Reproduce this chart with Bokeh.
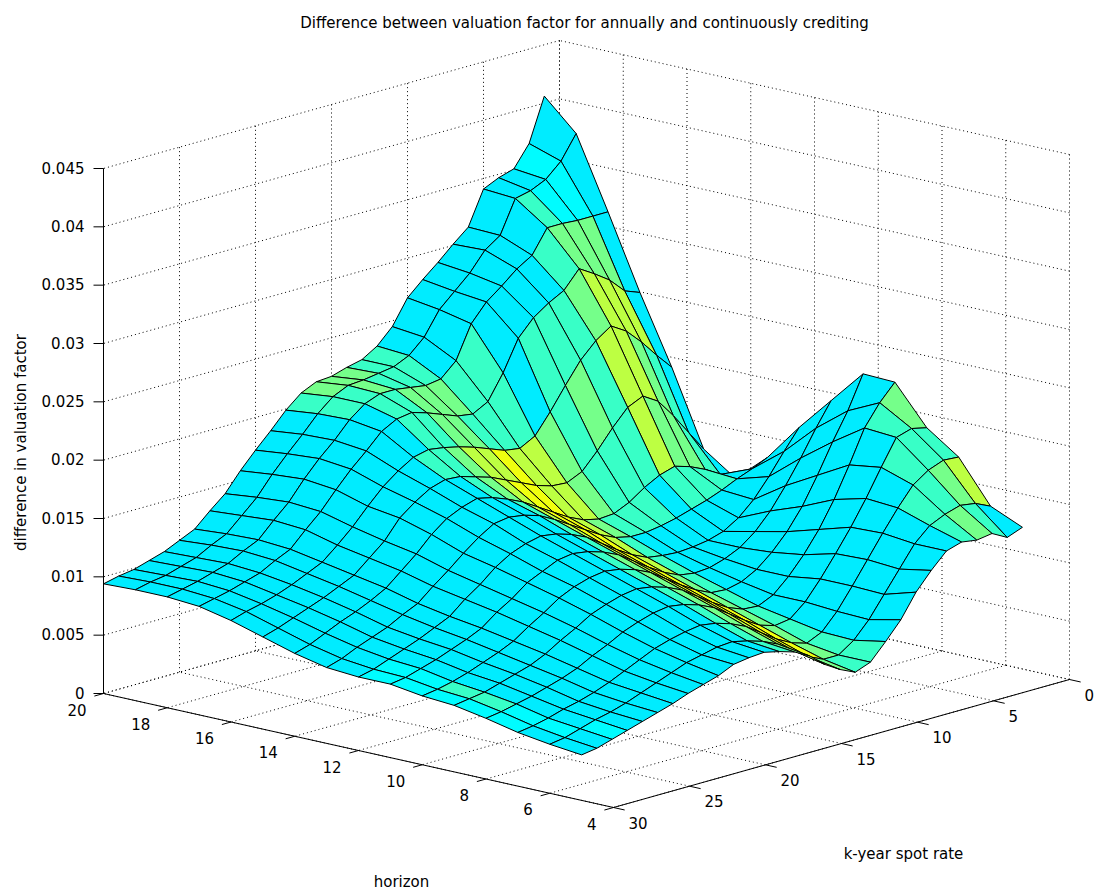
import numpy as np
from bokeh.plotting import figure
from bokeh.models import Range1d
from bokeh.embed import file_html
from bokeh.resources import INLINE
from bokeh.core.properties import value

# ---------------- data (values in units of 1e-3) ----------------
horizon = [20, 19, 18, 17, 16, 15, 14, 13, 12, 11, 10, 9, 8, 7, 6, 5]
spot_rate = [30, 29, 28, 27, 26, 25, 24, 23, 22, 21, 20, 19, 18, 17, 16,
             15, 14, 13, 12, 11, 10, 9, 8, 7, 6, 5, 4, 3, 2, 1]

diff_h20 = [9.4, 9.7, 9.9, 10.3, 10.7, 11.3, 11.9, 13.1, 14.2, 15.8, 17.2, 18.5, 19.9, 21.0, 21.6, 21.7, 22.1, 22.4, 23.2, 24.5, 26.6, 27.8, 28.9, 30.1, 31.2, 34.1, 34.7, 35.1, 36.9, 40.6]
diff_h19 = [9.5, 9.8, 10.0, 10.4, 10.8, 11.5, 12.1, 13.3, 14.5, 16.1, 17.5, 18.8, 20.2, 21.3, 21.9, 22.0, 22.2, 22.4, 23.0, 24.2, 26.2, 27.4, 28.6, 30.2, 31.1, 33.9, 34.2, 34.8, 36.0, 38.0]
diff_h18 = [9.5, 9.8, 10.1, 10.5, 10.9, 11.6, 12.2, 13.5, 14.7, 16.3, 17.7, 18.9, 20.3, 21.3, 21.8, 21.8, 21.6, 21.4, 21.6, 22.8, 25.6, 27.1, 28.1, 29.2, 30.0, 32.0, 32.0, 31.9, 31.9, 31.9]
diff_h17 = [9.3, 9.6, 9.9, 10.3, 10.7, 11.4, 12.0, 13.3, 14.5, 16.0, 17.4, 18.6, 19.9, 20.6, 20.8, 20.4, 19.9, 19.4, 19.2, 19.9, 22.0, 24.6, 26.0, 26.9, 27.6, 29.1, 28.3, 27.4, 26.1, 25.6]
diff_h16 = [8.7, 9.1, 9.4, 9.8, 10.3, 10.9, 11.5, 12.6, 13.8, 15.2, 16.5, 17.5, 18.3, 18.6, 18.4, 18.1, 17.7, 17.2, 16.7, 16.5, 17.2, 18.9, 20.8, 22.6, 23.9, 24.8, 24.0, 22.7, 21.2, 19.8]
diff_h15 = [7.9, 8.3, 8.8, 9.3, 9.8, 10.4, 11.0, 12.1, 13.2, 14.8, 15.8, 16.6, 17.0, 16.9, 16.5, 16.1, 15.5, 14.9, 14.3, 13.9, 13.8, 14.4, 15.8, 17.4, 18.8, 19.4, 18.6, 17.0, 15.2, 13.4]
diff_h14 = [7.1, 7.5, 8.1, 8.7, 9.2, 9.8, 10.5, 11.6, 12.7, 14.0, 15.0, 15.6, 16.0, 15.7, 15.2, 14.6, 13.8, 13.0, 12.2, 11.6, 11.3, 11.4, 12.0, 12.9, 13.6, 14.0, 13.6, 13.0, 12.2, 11.5]
diff_h13 = [6.5, 6.9, 7.5, 8.0, 8.5, 9.2, 9.8, 10.9, 11.9, 13.0, 14.0, 14.8, 15.0, 14.8, 14.4, 13.7, 12.9, 12.1, 11.3, 10.7, 10.4, 10.4, 10.6, 10.9, 11.3, 11.7, 12.2, 12.8, 13.3, 13.9]
diff_h12 = [6.3, 6.6, 7.1, 7.6, 8.1, 8.7, 9.3, 10.4, 11.3, 12.4, 13.2, 13.7, 14.0, 13.8, 13.4, 12.8, 11.9, 11.0, 10.2, 9.6, 9.4, 9.3, 9.4, 9.6, 10.0, 10.8, 12.0, 13.6, 15.4, 17.1]
diff_h11 = [6.3, 6.5, 6.9, 7.3, 7.8, 8.3, 8.9, 9.9, 10.7, 11.7, 12.3, 12.9, 13.1, 12.9, 12.5, 11.9, 11.0, 10.1, 9.3, 8.7, 8.5, 8.6, 9.0, 9.6, 10.6, 12.0, 13.8, 15.8, 18.0, 20.0]
diff_h10 = [5.9, 6.1, 6.4, 6.8, 7.3, 7.8, 8.4, 9.3, 10.1, 11.0, 11.6, 12.0, 12.2, 12.0, 11.6, 11.0, 10.1, 9.2, 8.4, 7.8, 7.7, 8.0, 8.7, 9.8, 11.2, 13.0, 15.3, 17.8, 20.1, 22.9]
diff_h9 = [5.7, 5.9, 6.1, 6.5, 6.9, 7.3, 7.9, 8.7, 9.4, 10.2, 10.7, 11.1, 11.3, 11.1, 10.7, 10.1, 9.2, 8.3, 7.5, 7.0, 6.9, 7.5, 8.7, 10.2, 12.0, 14.2, 16.8, 19.6, 21.4, 22.8]
diff_h8 = [5.2, 5.4, 5.7, 6.0, 6.4, 6.8, 7.3, 8.0, 8.6, 9.3, 9.8, 10.2, 10.4, 10.2, 9.8, 9.2, 8.3, 7.4, 6.6, 6.2, 6.4, 7.5, 9.1, 10.9, 12.8, 14.9, 17.2, 19.4, 19.8, 19.5]
diff_h7 = [4.6, 4.8, 5.1, 5.5, 5.8, 6.2, 6.7, 7.3, 7.9, 8.5, 8.9, 9.2, 9.4, 9.2, 8.8, 8.2, 7.3, 6.4, 5.7, 5.3, 5.9, 7.3, 9.1, 11.0, 12.9, 14.7, 16.3, 17.2, 17.7, 17.6]
diff_h6 = [4.2, 4.4, 4.8, 5.2, 5.5, 5.9, 6.4, 6.9, 7.4, 7.9, 8.2, 8.5, 8.6, 8.3, 7.9, 7.3, 6.4, 5.5, 4.9, 4.9, 5.8, 7.2, 9.0, 10.8, 12.6, 13.8, 14.4, 14.8, 14.6, 14.0]
diff_h5 = [3.9, 4.1, 4.5, 4.9, 5.3, 5.7, 6.1, 6.6, 7.0, 7.4, 8.0, 8.2, 8.3, 8.0, 7.6, 6.9, 5.8, 5.0, 4.4, 4.9, 6.3, 7.8, 9.8, 11.3, 12.6, 13.0, 12.8, 13.0, 12.3, 12.8]

# colour-data level of each face (15 bands between horizon rows, 29 faces per band)
cdata_levels = [
    "111111111111" + "344433" + "111111111" + "21",
    "111111111111" + "334333" + "111111" + "1" + "322" + "1",
    "111111111111" + "13344433" + "1111" + "3444" + "1",
    "111111111111" + "13344333" + "133" + "3" + "4555" + "1",
    "111111111111" + "33" + "45565" + "54343" + "5543" + "1",
    "111111111111" + "13" + "45665" + "54333" + "5443" + "1",
    "111111111111" + "11" + "35665" + "43331" + "3331" + "1",
    "111111111111" + "11" + "35665" + "31111" + "1111" + "1",
    "221111111111" + "11" + "35665" + "31111" + "1111" + "1",
    "221111111111" + "13" + "45664" + "31111" + "1111" + "1",
    "231111111111" + "13" + "45664" + "31111" + "1111" + "1",
    "231111111111" + "13" + "45664" + "31111" + "1113" + "4",
    "221111111111" + "13" + "45664" + "31111" + "1133" + "3",
    "121111111111" + "13" + "45664" + "31111" + "1334" + "5",
    "112111111111" + "13" + "45543" + "31111" + "1343" + "1",
]

horizon_ticks = [4, 6, 8, 10, 12, 14, 16, 18, 20]
spot_ticks = [0, 5, 10, 15, 20, 25, 30]
z_ticks = [0, 0.005, 0.01, 0.015, 0.02, 0.025, 0.03, 0.035, 0.04, 0.045]
z_tick_labels = ["0", "0.005", "0.01", "0.015", "0.02", "0.025", "0.03", "0.035", "0.04", "0.045"]

title_text = "Difference between valuation factor for annually and continuously crediting"
zlabel_text = "difference in valuation factor"
hlabel_text = "horizon"
klabel_text = "k-year spot rate"

# ---------------- 3-D axes geometry (orthographic view) ----------------
H_MIN, H_MAX = 4.0, 20.0
K_MIN, K_MAX = 0.0, 30.0
Z_MIN, Z_MAX = 0.0, 0.045
ORIGIN = (103.0, 693.0)      # page position of (h=20, k=30, z=0)
H_VEC = (510.0, 114.0)       # h going 20 -> 4
K_VEC = (456.0, -128.0)      # k going 30 -> 0
Z_LEN = 525.0                # z going 0 -> 0.045
DEPTH = (439.7, 495.0, 135.8)


def proj(h, k, z):
    a = (H_MAX - h) / (H_MAX - H_MIN)
    b = (K_MAX - k) / (K_MAX - K_MIN)
    x = ORIGIN[0] + a * H_VEC[0] + b * K_VEC[0]
    y = ORIGIN[1] + a * H_VEC[1] + b * K_VEC[1] - (z - Z_MIN) / (Z_MAX - Z_MIN) * Z_LEN
    return x, y


def far(h, k, z):
    return (DEPTH[0] * (h - H_MIN) / (H_MAX - H_MIN) - DEPTH[1] * k / (K_MAX - K_MIN)
            - DEPTH[2] * z / (Z_MAX - Z_MIN))


def jet(t):
    r = min(max(1.5 - abs(4 * t - 3), 0), 1)
    g = min(max(1.5 - abs(4 * t - 2), 0), 1)
    b = min(max(1.5 - abs(4 * t - 1), 0), 1)
    return "#%02x%02x%02x" % (int(round(r * 255)), int(round(g * 255)), int(round(b * 255)))


LEVEL_T = {"1": 0.356, "2": 0.372, "3": 0.43, "4": 0.49, "5": 0.56, "6": 0.61}

Z = np.array([diff_h20, diff_h19, diff_h18, diff_h17, diff_h16, diff_h15, diff_h14, diff_h13,
              diff_h12, diff_h11, diff_h10, diff_h9, diff_h8, diff_h7, diff_h6, diff_h5]) * 1e-3

# ---------------- figure (page pixels = data units) ----------------
W, HGT = 1094, 892
p = figure(width=W, height=HGT, output_backend="svg", toolbar_location=None,
           x_range=Range1d(0, W), y_range=Range1d(HGT, 0),
           x_axis_location=None, y_axis_location=None, min_border=0)
p.grid.visible = False
p.outline_line_color = None
p.background_fill_color = "white"
p.border_fill_color = "white"

# ---------------- dotted grid on floor and back walls ----------------
gx, gy = [], []


def seg(p0, p1):
    x0, y0 = proj(*p0)
    x1, y1 = proj(*p1)
    gx.append([x0, x1])
    gy.append([y0, y1])


for hv in horizon_ticks:
    seg((hv, K_MIN, 0), (hv, K_MAX, 0))          # floor
    seg((hv, K_MIN, Z_MIN), (hv, K_MIN, Z_MAX))  # right wall verticals
for kv in spot_ticks:
    seg((H_MIN, kv, 0), (H_MAX, kv, 0))          # floor
    seg((H_MAX, kv, Z_MIN), (H_MAX, kv, Z_MAX))  # left wall verticals
for zv in z_ticks:
    seg((H_MAX, K_MIN, zv), (H_MAX, K_MAX, zv))  # left wall
    seg((H_MIN, K_MIN, zv), (H_MAX, K_MIN, zv))  # right wall

p.multi_line(gx, gy, line_color="#000000", line_width=1, line_dash="1 3")

# ---------------- surface ----------------
faces = []
nh, nk = Z.shape
for i in range(nh - 1):
    for j in range(nk - 1):
        corners = [(horizon[i], spot_rate[j], Z[i, j]),
                   (horizon[i], spot_rate[j + 1], Z[i, j + 1]),
                   (horizon[i + 1], spot_rate[j + 1], Z[i + 1, j + 1]),
                   (horizon[i + 1], spot_rate[j], Z[i + 1, j])]
        pts = [proj(*c) for c in corners]
        d = np.mean([far(*c) for c in corners])
        col = jet(LEVEL_T[cdata_levels[i][j]])
        faces.append((d, [q[0] for q in pts], [q[1] for q in pts], col))

faces.sort(key=lambda f: -f[0])
p.patches([f[1] for f in faces], [f[2] for f in faces], fill_color=[f[3] for f in faces],
          line_color="#000000", line_width=1, line_join="bevel")

# ---------------- axis lines and ticks ----------------
ax = []
ay = []
for a0, a1 in [((H_MAX, K_MAX, Z_MIN), (H_MAX, K_MAX, Z_MAX)),
               ((H_MAX, K_MAX, 0), (H_MIN, K_MAX, 0)),
               ((H_MIN, K_MAX, 0), (H_MIN, K_MIN, 0))]:
    x0, y0 = proj(*a0)
    x1, y1 = proj(*a1)
    ax.append([x0, x1])
    ay.append([y0, y1])
for zv in z_ticks:
    x0, y0 = proj(H_MAX, K_MAX, zv)
    ax.append([x0 - 10, x0])
    ay.append([y0, y0])
for hv in horizon_ticks:
    x0, y0 = proj(hv, K_MAX, 0)
    x1, y1 = proj(hv, K_MAX + 0.6, 0)
    ax.append([x0, x1])
    ay.append([y0, y1])
for kv in spot_ticks:
    x0, y0 = proj(H_MIN, kv, 0)
    x1, y1 = proj(H_MIN - 0.35, kv, 0)
    ax.append([x0, x1])
    ay.append([y0, y1])
p.multi_line(ax, ay, line_color="#000000", line_width=1)

FONT = value("DejaVu Sans")
FS = "15px"

zx, zy = [], []
for zv in z_ticks:
    x0, y0 = proj(H_MAX, K_MAX, zv)
    zx.append(x0 - 19)
    zy.append(y0 - 1)
p.text(zx, zy, text=z_tick_labels, text_font=FONT, text_font_size=FS,
       text_align="right", text_baseline="middle", text_color="#000000")

hx, hy, ht = [], [], []
for hv in horizon_ticks:
    x0, y0 = proj(hv, K_MAX, 0)
    hx.append(x0 - 17)
    hy.append(y0 + 16)
    ht.append(str(hv))
p.text(hx, hy, text=ht, text_font=FONT, text_font_size=FS,
       text_align="right", text_baseline="middle", text_color="#000000")

kx, ky, kt = [], [], []
for kv in spot_ticks:
    x0, y0 = proj(H_MIN, kv, 0)
    kx.append(x0 + 15)
    ky.append(y0 + 15)
    kt.append(str(kv))
p.text(kx, ky, text=kt, text_font=FONT, text_font_size=FS,
       text_align="left", text_baseline="middle", text_color="#000000")

p.text([584], [22], text=[title_text], text_font=FONT, text_font_size=FS,
       text_align="center", text_baseline="middle", text_color="#000000")
p.text([20], [442], text=[zlabel_text], text_font=FONT, text_font_size=FS, angle=np.pi / 2,
       text_align="center", text_baseline="middle", text_color="#000000")
p.text([401], [881], text=[hlabel_text], text_font=FONT, text_font_size=FS,
       text_align="center", text_baseline="middle", text_color="#000000")
p.text([903], [853], text=[klabel_text], text_font=FONT, text_font_size=FS,
       text_align="center", text_baseline="middle", text_color="#000000")

open("out.html", "w").write(file_html(p, INLINE))
